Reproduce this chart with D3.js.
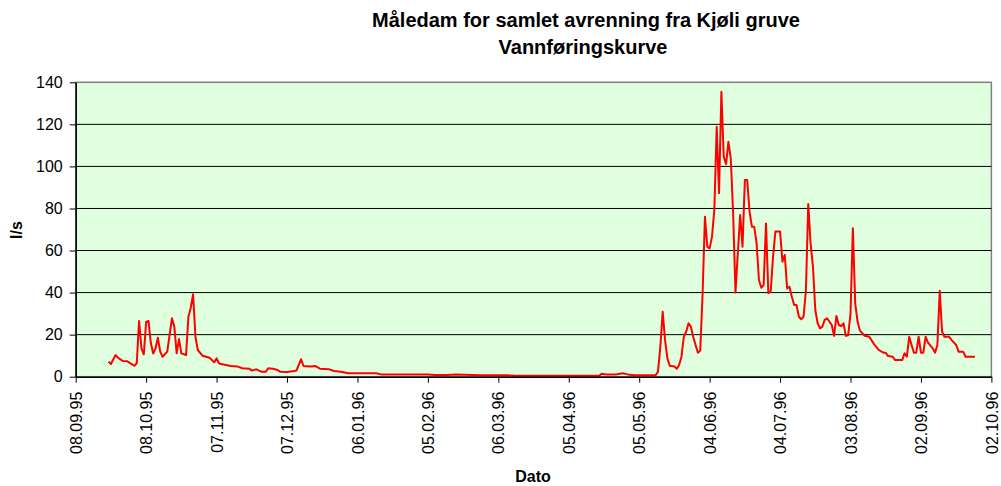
<!DOCTYPE html>
<html>
<head>
<meta charset="utf-8">
<title>Vannføringskurve</title>
<style>
  body { margin: 0; background: #fff; }
  svg { display: block; font-family: "Liberation Sans", Arial, sans-serif; }
</style>
</head>
<body>
<div id="chart"></div>
<script src="https://d3js.org/d3.v7.min.js"></script>
<script>

// days counted from 08.09.95, flow in l/s
const dayNo = [14, 15, 17, 18, 20, 22, 24, 25, 26, 27, 28, 29, 30, 31, 32, 33, 34, 35, 36, 37,
  39, 41, 42, 43, 44, 45, 47, 48, 49, 50, 51, 52, 54, 57, 59, 60, 61, 62, 66, 69,
  71, 74, 75, 77, 79, 81, 82, 84, 86, 87, 90, 93, 94, 96, 97, 100, 102, 104, 108, 110,
  113, 116, 120, 128, 130, 139, 150, 153, 158, 162, 173, 184, 187, 201, 210, 223, 224, 226, 230, 233,
  235, 238, 240, 247, 248, 249, 250, 251, 252, 253, 255, 256, 257, 258, 259, 260, 261, 262, 263, 264,
  265, 266, 267, 268, 269, 270, 271, 272, 273, 274, 275, 276, 277, 278, 279, 280, 281, 282, 283, 284,
  285, 286, 287, 288, 289, 290, 291, 292, 293, 294, 295, 296, 297, 298, 300, 301, 302, 303, 304, 305,
  306, 307, 308, 309, 310, 311, 312, 313, 314, 315, 316, 317, 318, 319, 320, 322, 323, 324, 325, 326,
  327, 328, 329, 330, 331, 332, 333, 334, 336, 338, 340, 342, 344, 345, 346, 348, 349, 352, 353, 354,
  355, 356, 357, 358, 359, 360, 361, 362, 363, 365, 366, 367, 368, 369, 370, 372, 373, 375, 376, 378,
  379, 383];

const flow = [7.1, 6.0, 10.3, 9.0, 7.5, 7.3, 5.9, 5.2, 6.4, 26.5, 13.5, 10.6, 26, 26.5, 16, 11, 13.5, 18.5, 11.9, 9.5,
  11.9, 27.8, 23.8, 11.1, 17.9, 11.1, 10.3, 28.5, 32.8, 39.2, 19, 12.7, 10, 9, 6.8, 8.7, 6.4, 6.0, 5.1, 4.8,
  4.0, 3.8, 2.9, 3.5, 2.4, 2.4, 4.0, 3.8, 3.2, 2.4, 2.2, 2.7, 2.9, 8.3, 5.1, 4.8, 5.1, 3.8, 3.5, 2.7,
  2.4, 1.6, 1.6, 1.6, 1.1, 1.1, 1.1, 0.8, 0.8, 1.0, 0.7, 0.7, 0.4, 0.4, 0.4, 0.4, 1.4, 1.1, 1.0, 1.6,
  1.1, 0.7, 0.7, 0.7, 2.4, 14.3, 30.9, 17.5, 8.7, 5.2, 4.8, 3.8, 5.6, 9.5, 19, 21.4, 25.4, 23.8, 19, 15.1,
  11.4, 12.4, 39.7, 76.1, 61.8, 61, 66.6, 79.3, 118.9, 87.2, 135.5, 104.6, 101.1, 111.7, 103.8, 77.7, 40, 58.7, 76.9, 61.8,
  93.5, 93.5, 78.5, 71.3, 71.3, 63.4, 46, 42.3, 43.6, 72.9, 39.7, 40.4, 57.1, 69, 69, 54.7, 57.9, 42, 42.8, 38,
  34.1, 34.1, 28.5, 27.3, 28.5, 41.2, 82.1, 63.4, 52.3, 31.7, 25.4, 23, 23.8, 27, 27.8, 24.6, 19.4, 28.9, 24.6, 24.1,
  25.4, 19.4, 19.7, 30.1, 70.6, 34.9, 26.2, 21.9, 19.5, 19, 15.5, 12.7, 11.4, 11.4, 9.8, 9.5, 7.9, 7.9, 11.1, 9.5,
  19, 15.1, 11.4, 11.4, 19, 11.4, 11.4, 19, 16.2, 13.5, 11.4, 15.1, 40.9, 21.4, 19, 19, 17.5, 15.1, 11.9, 11.9,
  9.5, 9.5];

const yTicks = [0, 20, 40, 60, 80, 100, 120, 140];
const tickEveryDays = 30;
const totalDays = 390;

const width = 1001;
const height = 486;
const plot = { left: 75.7, right: 991.4, top: 82.3, bottom: 376.7 };

const start = new Date(Date.UTC(1995, 8, 8));
const data = dayNo.map((d, i) => ({ date: d3.utcDay.offset(start, d), v: flow[i] }));

const svg = d3.select('#chart')
  .append('svg')
  .attr('width', width)
  .attr('height', height);

const x = d3.scaleUtc()
  .domain([start, d3.utcDay.offset(start, totalDays)])
  .range([plot.left, plot.right]);

const y = d3.scaleLinear()
  .domain([0, 140])
  .range([plot.bottom, plot.top]);

// plot area
svg.append('rect')
  .attr('x', plot.left)
  .attr('y', plot.top)
  .attr('width', plot.right - plot.left)
  .attr('height', plot.bottom - plot.top)
  .attr('fill', '#dfffdf')
  .attr('stroke', '#808080')
  .attr('stroke-width', 1.5);

// gridlines
svg.append('g')
  .selectAll('line')
  .data(yTicks.filter(t => t > 0 && t < 140))
  .join('line')
    .attr('x1', plot.left)
    .attr('x2', plot.right)
    .attr('y1', d => y(d))
    .attr('y2', d => y(d))
    .attr('stroke', '#000')
    .attr('stroke-width', 1);

// line
const line = d3.line()
  .x(d => x(d.date))
  .y(d => y(d.v));

svg.append('path')
  .datum(data)
  .attr('fill', 'none')
  .attr('stroke', '#ff0000')
  .attr('stroke-width', 2)
  .attr('stroke-linejoin', 'round')
  .attr('d', line);

// axes
const xTicks = d3.range(0, totalDays + 1, tickEveryDays).map(d => d3.utcDay.offset(start, d));

const xAxis = svg.append('g')
  .attr('transform', `translate(0,${plot.bottom})`)
  .call(d3.axisBottom(x).tickValues(xTicks).tickFormat(d3.utcFormat('%d.%m.%y')).tickSize(6).tickSizeOuter(0));
xAxis.select('.domain').attr('stroke', '#000').attr('stroke-width', 1.5);
xAxis.selectAll('.tick line').attr('stroke', '#000');
xAxis.selectAll('text')
  .attr('transform', 'rotate(-90)')
  .attr('x', -15)
  .attr('y', 0)
  .attr('dy', '0.35em')
  .style('text-anchor', 'end')
  .attr('font-size', '16px')
  .attr('fill', '#000');

const yAxis = svg.append('g')
  .attr('transform', `translate(${plot.left},0)`)
  .call(d3.axisLeft(y).tickValues(yTicks).tickSize(6).tickSizeOuter(0));
yAxis.select('.domain').attr('stroke', '#000').attr('stroke-width', 1.5);
yAxis.selectAll('.tick line').attr('stroke', '#000');
yAxis.selectAll('text')
  .attr('x', -13)
  .attr('font-size', '16px')
  .attr('fill', '#000');

// titles
svg.append('text')
  .attr('x', 586)
  .attr('y', 27)
  .attr('text-anchor', 'middle')
  .attr('font-size', '20px')
  .attr('font-weight', 'bold')
  .text('Måledam for samlet avrenning fra Kjøli gruve');

svg.append('text')
  .attr('x', 583)
  .attr('y', 54)
  .attr('text-anchor', 'middle')
  .attr('font-size', '20px')
  .attr('font-weight', 'bold')
  .text('Vannføringskurve');

svg.append('text')
  .attr('transform', 'translate(22,230) rotate(-90)')
  .attr('text-anchor', 'middle')
  .attr('font-size', '16px')
  .attr('font-weight', 'bold')
  .text('l/s');

svg.append('text')
  .attr('x', 533)
  .attr('y', 482)
  .attr('text-anchor', 'middle')
  .attr('font-size', '16px')
  .attr('font-weight', 'bold')
  .text('Dato');

</script>
</body>
</html>
